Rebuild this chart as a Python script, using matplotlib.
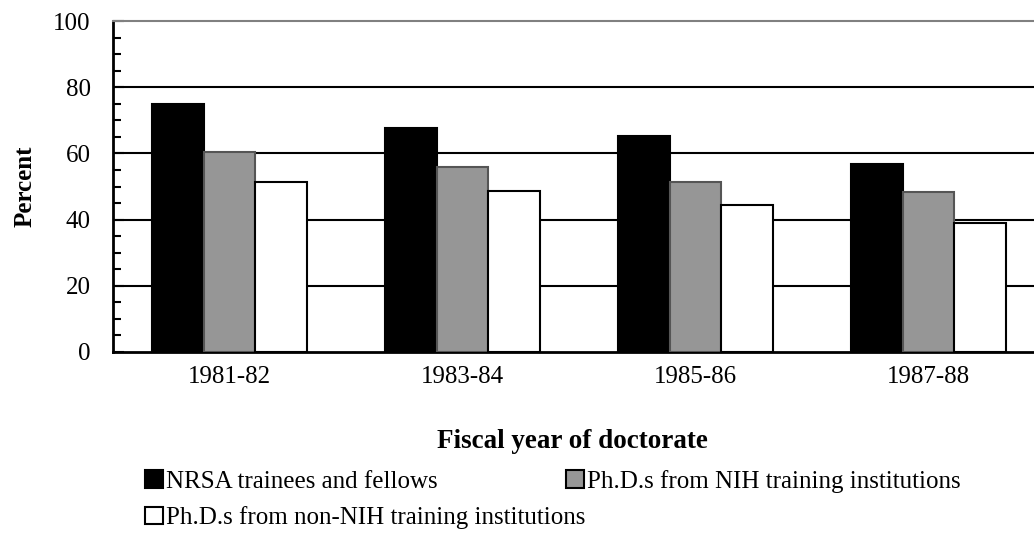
import numpy as np
import matplotlib
matplotlib.use("Agg")
import matplotlib.pyplot as plt
from matplotlib.patches import Patch

years = ["1981-82", "1983-84", "1985-86", "1987-88"]
nrsa = [74.8, 67.6, 65.4, 56.9]
nih = [60.4, 55.8, 51.3, 48.3]
non_nih = [51.5, 48.7, 44.3, 39.1]
series_names = ["NRSA trainees and fellows",
                "Ph.D.s from NIH training institutions",
                "Ph.D.s from non-NIH training institutions"]
colors = ["#000000", "#969696", "#ffffff"]

plt.rcParams['font.family'] = ['Liberation Serif', 'DejaVu Serif']
fs = 18

fig = plt.figure(figsize=(10.34, 5.56), dpi=100)
W, H = 1034, 556
ax = fig.add_axes([113 / W, (H - 352) / H, (1045 - 113) / W, (352 - 21) / H])

x = np.arange(len(years))
w = 1 / 4.5
for i, (vals, c) in enumerate(zip([nrsa, nih, non_nih], colors)):
    ec = "#555555" if c == "#969696" else "black"
    ax.bar(x + (i - 1) * w, vals, width=w, color=c, edgecolor=ec, linewidth=1.5, zorder=3)

ax.set_xlim(-0.5, len(years) - 0.5)
ax.set_ylim(0, 100)
ax.set_yticks(np.arange(0, 101, 20))
ax.set_yticks(np.arange(0, 101, 5), minor=True)
for v in ax.get_yticks()[1:-1]:
    ax.axhline(v, color="black", lw=1.5, zorder=1)

ax.set_xticks(x)
ax.set_xticklabels(years, fontsize=fs)
ax.tick_params(axis='x', length=0, pad=10)
ax.tick_params(axis='y', which='both', direction='in', labelsize=fs, pad=16, width=1.5)
ax.tick_params(axis='y', which='major', length=8)
ax.tick_params(axis='y', which='minor', length=6)

ax.spines['right'].set_visible(False)
ax.spines['top'].set_color("#808080")
ax.spines['top'].set_linewidth(1.5)
ax.spines['left'].set_linewidth(2)
ax.spines['bottom'].set_linewidth(2)

ax.set_ylabel("Percent", fontsize=fs, fontweight='bold', labelpad=12)
fig.text(572 / W, 1 - 441 / H, "Fiscal year of doctorate", fontsize=19.5,
         fontweight='bold', ha='center', va='center')

handles = [Patch(facecolor=c, edgecolor='black', linewidth=1.5) for c in colors]
leg_kw = dict(loc='upper left', frameon=False, fontsize=fs, borderpad=0,
              borderaxespad=0, handlelength=0.7, handleheight=0.7,
              handletextpad=0.15, labelspacing=0.55)
fig.legend([handles[0], handles[2]], [series_names[0], series_names[2]],
           bbox_to_anchor=(145 / W, 1 - 470 / H), **leg_kw)
fig.legend([handles[1]], [series_names[1]],
           bbox_to_anchor=(566 / W, 1 - 470 / H), **leg_kw)

fig.savefig("out.png", dpi=100)
